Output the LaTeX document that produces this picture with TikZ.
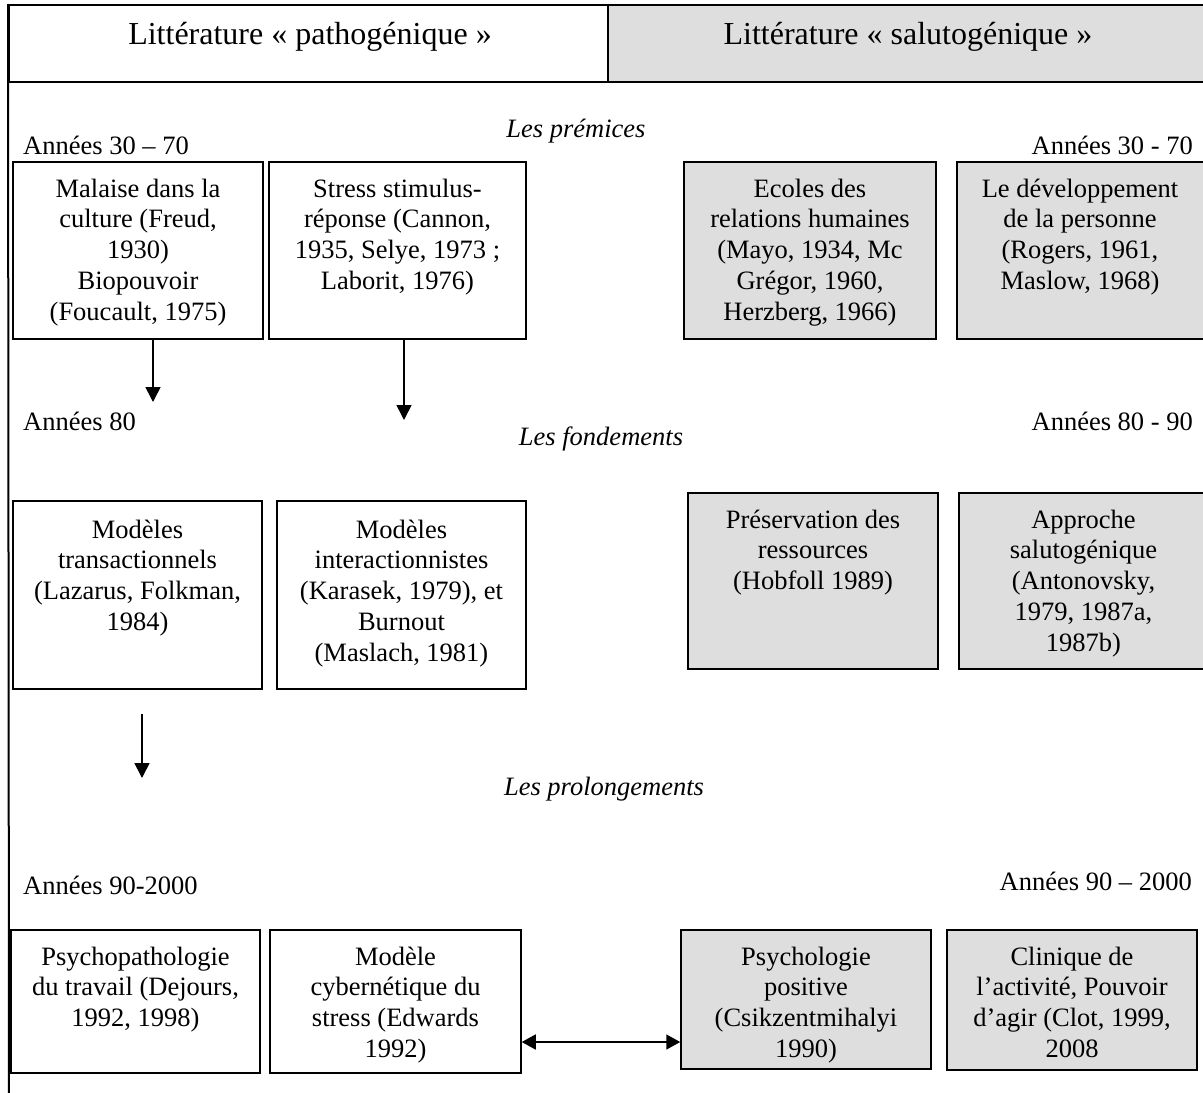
\documentclass[tikz,border=0pt]{standalone}
\usepackage{fontspec}
\setmainfont{Liberation Serif}
\usetikzlibrary{arrows.meta}
\definecolor{boxgray}{RGB}{222,222,222}
\begin{document}
\begin{tikzpicture}[x=1pt,y=-1pt,
  pbox/.style={draw=black, line width=1.5pt, fill=white, rectangle, inner sep=0pt},
  sbox/.style={pbox, fill=boxgray},
  txt/.style={anchor=north, inner sep=0pt, align=center, font=\fontsize{26.5}{30.8}\selectfont, yshift=-14pt},
  lab/.style={inner sep=0pt, font=\fontsize{26.5}{30.8}\selectfont},
  itlab/.style={inner sep=0pt, anchor=base, font=\fontsize{26.5}{30.8}\selectfont\itshape},
  head/.style={inner sep=0pt, anchor=base, font=\fontsize{32}{38}\selectfont},
  arr/.style={line width=1.6pt, -{Triangle[width=15pt,length=15pt]}},
  darr/.style={line width=1.6pt, {Triangle[width=15pt,length=14pt]}-{Triangle[width=15pt,length=14pt]}},
]
\useasboundingbox (0,0) rectangle (1203,1093);
\clip (0,0) rectangle (1203,1093);

% header
\node[pbox, line width=2pt, minimum width=599pt, minimum height=77pt] (hp) at (308.5,43.5) {};
\node[sbox, line width=2pt, minimum width=602pt, minimum height=77pt] (hs) at (909,43.5) {};
\node[head] (hpt) at (310,44) {Littérature « pathogénique »};
\node[head] (hst) at (908,44) {Littérature « salutogénique »};
\coordinate (framebot) at (9,1100);
\draw[line width=2pt] (hp.north west) -- (framebot);

% labels
\node[lab, anchor=base west] (y1l) at (23,154) {Années 30 – 70};
\node[lab, anchor=base east] (y1r) at (1193,154) {Années 30 - 70};
\node[itlab] (p1) at (576,137) {Les prémices};
\node[lab, anchor=base west] (y2l) at (23,430) {Années 80};
\node[lab, anchor=base east] (y2r) at (1193,430) {Années 80 - 90};
\node[itlab] (p2) at (601,445) {Les fondements};
\node[itlab] (p3) at (604,795) {Les prolongements};
\node[lab, anchor=base west] (y3l) at (23,894) {Années 90-2000};
\node[lab, anchor=base east] (y3r) at (1192,890) {Années 90 – 2000};

% row 1
\node[pbox, minimum width=250pt, minimum height=177pt] (A) at (138,250.5) {};
\node[pbox, minimum width=257pt, minimum height=177pt] (B) at (397.5,250.5) {};
\node[sbox, minimum width=252pt, minimum height=177pt] (C) at (810,250.5) {};
\node[sbox, minimum width=249pt, minimum height=177pt] (D) at (1081.5,250.5) {};
\node[txt] (At) at (A.north) {\strut Malaise dans la\\culture (Freud,\\1930)\\Biopouvoir\\(Foucault, 1975)};
\node[txt] (Bt) at (B.north) {\strut Stress stimulus-\\réponse (Cannon,\\1935, Selye, 1973 ;\\Laborit, 1976)};
\node[txt] (Ct) at (C.north) {\strut Ecoles des\\relations humaines\\(Mayo, 1934, Mc\\Grégor, 1960,\\Herzberg, 1966)};
\node[txt, xshift=-1.5pt] (Dt) at (D.north) {\strut Le développement\\de la personne\\(Rogers, 1961,\\Maslow, 1968)};

% row 2
\node[pbox, minimum width=249pt, minimum height=188pt] (E) at (137.5,595) {};
\node[pbox, minimum width=249pt, minimum height=188pt] (F) at (401.5,595) {};
\node[sbox, minimum width=250pt, minimum height=176pt] (G) at (813,581) {};
\node[sbox, minimum width=249pt, minimum height=176pt] (H) at (1083.5,581) {};
\node[txt, yshift=-2pt] (Et) at (E.north) {\strut Modèles\\transactionnels\\(Lazarus, Folkman,\\1984)};
\node[txt, yshift=-2pt] (Ft) at (F.north) {\strut Modèles\\interactionnistes\\(Karasek, 1979), et\\Burnout\\(Maslach, 1981)};
\node[txt] (Gt) at (G.north) {\strut Préservation des\\ressources\\(Hobfoll 1989)};
\node[txt] (Ht) at (H.north) {\strut Approche\\salutogénique\\(Antonovsky,\\1979, 1987a,\\1987b)};

% row 3
\node[pbox, minimum width=249pt, minimum height=143pt] (I) at (135.5,1001.5) {};
\node[pbox, minimum width=251pt, minimum height=143pt] (J) at (395.5,1001.5) {};
\node[sbox, minimum width=250pt, minimum height=139pt] (K) at (806,999.5) {};
\node[sbox, minimum width=250pt, minimum height=140pt] (L) at (1072,1000) {};
\node[txt] (It) at (I.north) {\strut Psychopathologie\\du travail (Dejours,\\1992, 1998)};
\node[txt] (Jt) at (J.north) {\strut Modèle\\cybernétique du\\stress (Edwards\\1992)};
\node[txt] (Kt) at (K.north) {\strut Psychologie\\positive\\(Csikzentmihalyi\\1990)};
\node[txt] (Lt) at (L.north) {\strut Clinique de\\l’activité, Pouvoir\\d’agir (Clot, 1999,\\2008};

% arrows
\coordinate (a1e) at (153,402);
\coordinate (a2e) at (404,420);
\coordinate (a3s) at (142,714);
\coordinate (a3e) at (142,778);
\coordinate (a4m) at (600,1042);
\draw[arr] (A.south -| a1e) -- (a1e);
\draw[arr] (B.south -| a2e) -- (a2e);
\draw[arr] (a3s) -- (a3e);
\draw[darr] (J.east |- a4m) -- (K.west |- a4m);
\end{tikzpicture}
\end{document}
